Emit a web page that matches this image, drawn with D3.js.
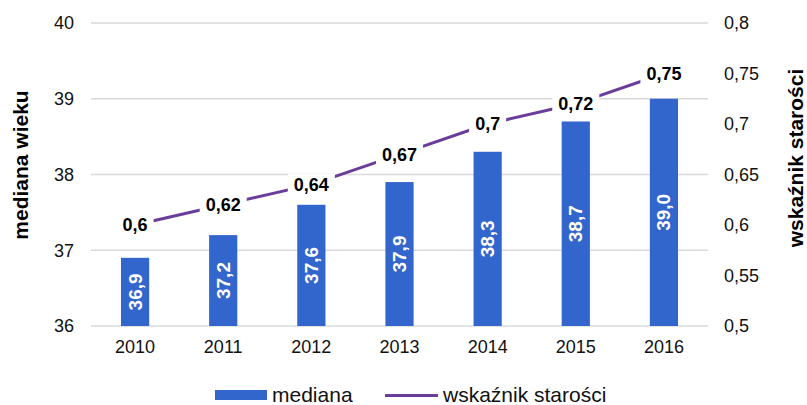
<!DOCTYPE html>
<html>
<head>
<meta charset="utf-8">
<script src="https://cdn.jsdelivr.net/npm/d3@7"></script>
<style>
  body { margin: 0; background: #fff; }
  text { font-family: "Liberation Sans", Arial, sans-serif; }
</style>
</head>
<body>
<div id="chart"></div>
<script>
// dane
const years = ['2010', '2011', '2012', '2013', '2014', '2015', '2016'];
const mediana = [36.9, 37.2, 37.6, 37.9, 38.3, 38.7, 39.0];
const wskaznik = [0.6, 0.62, 0.64, 0.67, 0.7, 0.72, 0.75];
const leftTicks = [36, 37, 38, 39, 40];
const rightTicks = [0.5, 0.55, 0.6, 0.65, 0.7, 0.75, 0.8];

const width = 807, height = 405;
const margin = { top: 23, right: 99, bottom: 79, left: 91 };

const fmt = v => String(v).replace('.', ',');

const svg = d3.select('#chart')
    .append('svg')
    .attr('width', width)
    .attr('height', height);

const x = d3.scaleBand()
    .domain(years)
    .range([margin.left, width - margin.right])
    .paddingInner(0.68)
    .paddingOuter(0.34);

const yL = d3.scaleLinear().domain([36, 40]).range([height - margin.bottom, margin.top]);
const yR = d3.scaleLinear().domain([0.5, 0.8]).range([height - margin.bottom, margin.top]);

// siatka
svg.append('g')
    .selectAll('line')
    .data(leftTicks)
    .enter()
    .append('line')
    .attr('x1', margin.left)
    .attr('x2', width - margin.right)
    .attr('y1', d => yL(d))
    .attr('y2', d => yL(d))
    .attr('stroke', '#d9d9d9')
    .attr('stroke-width', 1.3);

// osie
const axisL = svg.append('g')
    .attr('transform', `translate(${margin.left},0)`)
    .call(d3.axisLeft(yL).tickValues(leftTicks).tickSize(0).tickPadding(17).tickFormat(d3.format('d')));
const axisR = svg.append('g')
    .attr('transform', `translate(${width - margin.right},0)`)
    .call(d3.axisRight(yR).tickValues(rightTicks).tickSize(0).tickPadding(16).tickFormat(fmt));
const axisB = svg.append('g')
    .attr('transform', `translate(0,${height - margin.bottom})`)
    .call(d3.axisBottom(x).tickSize(0).tickPadding(14));

[axisL, axisR, axisB].forEach(a => {
    a.select('.domain').remove();
    a.selectAll('text')
        .style('font-size', '18px')
        .style('fill', '#111')
        .style('font-family', '"Liberation Sans", Arial, sans-serif');
});

// tytuły osi
svg.append('text')
    .attr('transform', 'translate(28,165) rotate(-90)')
    .attr('text-anchor', 'middle')
    .style('font-size', '21px')
    .style('font-weight', 'bold')
    .text('mediana wieku');

svg.append('text')
    .attr('transform', 'translate(803,158) rotate(-90)')
    .attr('text-anchor', 'middle')
    .style('font-size', '21px')
    .style('font-weight', 'bold')
    .text('wskaźnik starości');

// słupki
svg.append('g')
    .selectAll('rect')
    .data(mediana)
    .enter()
    .append('rect')
    .attr('x', (d, i) => x(years[i]))
    .attr('width', x.bandwidth())
    .attr('y', d => yL(d))
    .attr('height', d => yL(36) - yL(d))
    .attr('fill', '#3366cc');

svg.append('g')
    .selectAll('text')
    .data(mediana)
    .enter()
    .append('text')
    .attr('transform', (d, i) => `translate(${x(years[i]) + x.bandwidth() / 2 + 6.5},${(yL(d) + yL(36)) / 2}) rotate(-90)`)
    .attr('text-anchor', 'middle')
    .style('font-size', '19px')
    .style('font-weight', 'bold')
    .style('fill', '#fff')
    .text(d => d.toFixed(1).replace('.', ','));

// linia
const line = d3.line()
    .x((d, i) => x(years[i]) + x.bandwidth() / 2)
    .y(d => yR(d));

svg.append('path')
    .datum(wskaznik)
    .attr('d', line)
    .attr('fill', 'none')
    .attr('stroke', '#6a3d9a')
    .attr('stroke-width', 3);

// etykiety linii
const lbl = svg.append('g')
    .selectAll('g')
    .data(wskaznik)
    .enter()
    .append('g')
    .attr('transform', (d, i) => `translate(${x(years[i]) + x.bandwidth() / 2},${yR(d)})`);

lbl.append('text')
    .attr('text-anchor', 'middle')
    .attr('dy', '0.35em')
    .style('font-size', '18px')
    .style('font-weight', 'bold')
    .style('fill', '#000')
    .text(d => fmt(d))
    .each(function() {
        const b = this.getBBox();
        d3.select(this.parentNode).insert('rect', 'text')
            .attr('x', b.x - 6)
            .attr('y', b.y - 1)
            .attr('width', b.width + 12)
            .attr('height', b.height + 2)
            .attr('fill', '#fff');
    });

// legenda
const legend = svg.append('g');
legend.append('rect')
    .attr('x', 215).attr('y', 390)
    .attr('width', 52).attr('height', 10)
    .attr('fill', '#3366cc');
legend.append('text')
    .attr('x', 272).attr('y', 402)
    .style('font-size', '21px')
    .style('fill', '#111')
    .text('mediana');
legend.append('line')
    .attr('x1', 385).attr('x2', 438)
    .attr('y1', 395.5).attr('y2', 395.5)
    .attr('stroke', '#6a3d9a')
    .attr('stroke-width', 3);
legend.append('text')
    .attr('x', 443).attr('y', 402)
    .style('font-size', '21px')
    .style('fill', '#111')
    .text('wskaźnik starości');
</script>
</body>
</html>
